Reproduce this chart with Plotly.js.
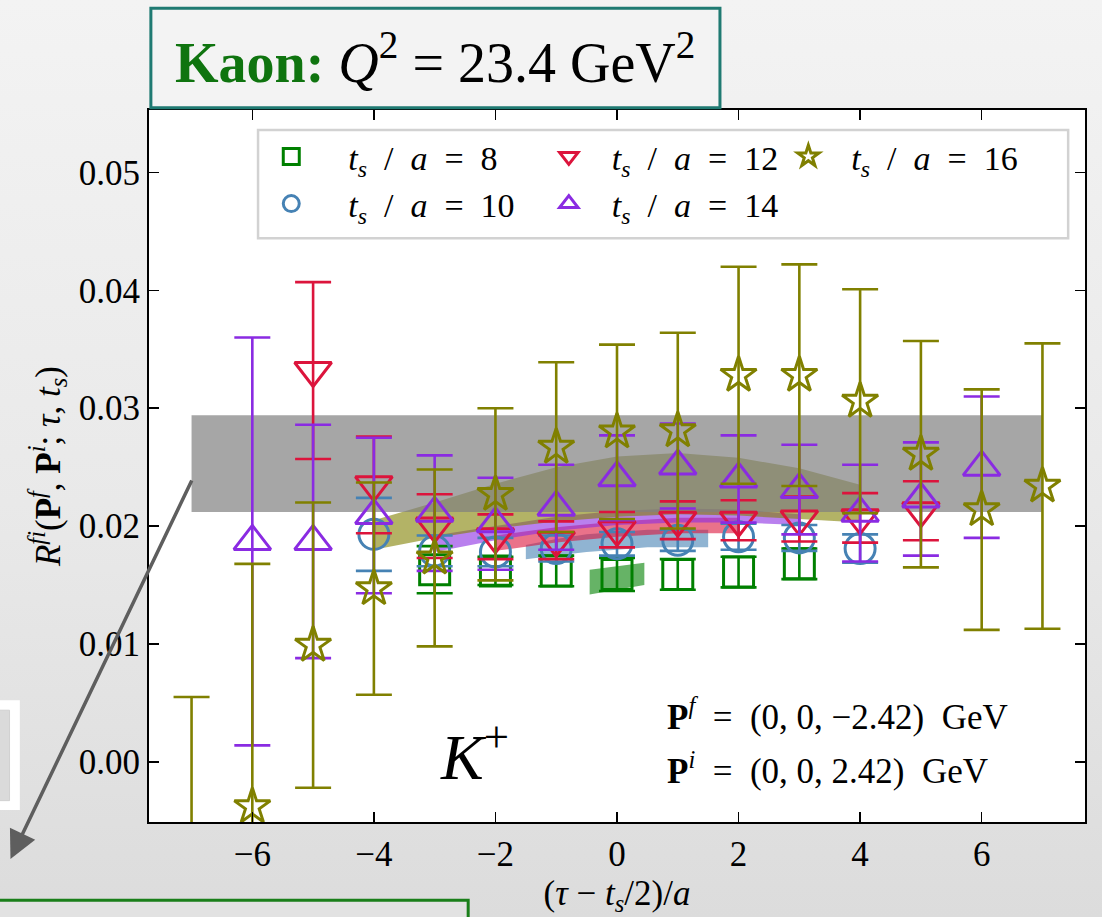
<!DOCTYPE html>
<html>
<head>
<meta charset="utf-8">
<script src="https://cdn.plot.ly/plotly-3.0.1.min.js"></script>
<style>
  html, body { margin: 0; padding: 0; }
  body { width: 1102px; height: 917px; background: linear-gradient(to bottom, #f3f3f3 0%, #e9e9e9 55%, #dcdcdc 100%); }
  #chart { width: 1102px; height: 917px; }
</style>
</head>
<body>
<div id="chart"></div>
<script>
// ---------------- data ----------------
const x8  = [-3, -2, -1, 0, 1, 2, 3];
const y8  = [0.0163, 0.0162, 0.0162, 0.0159, 0.0159, 0.0161, 0.0168];
const e8  = [0.0020, 0.0012, 0.0013, 0.0014, 0.0013, 0.0013, 0.0013];

const x10 = [-4, -3, -2, -1, 0, 1, 2, 3, 4];
const y10 = [0.0193, 0.0179, 0.0178, 0.0181, 0.0185, 0.0188, 0.0191, 0.0190, 0.0181];
const e10 = [0.0031, 0.0013, 0.0012, 0.0011, 0.0010, 0.0009, 0.0011, 0.0011, 0.0012];

const x12 = [-5, -4, -3, -2, -1, 0, 1, 2, 3, 4, 5];
const y12 = [0.0332, 0.0235, 0.0200, 0.0191, 0.0188, 0.0197, 0.0205, 0.0205, 0.0206, 0.0207, 0.0213];
const e12 = [0.0075, 0.0041, 0.0027, 0.0019, 0.0016, 0.0015, 0.0016, 0.0017, 0.0019, 0.0021, 0.0025];

const x14 = [-6, -5, -4, -3, -2, -1, 0, 1, 2, 3, 4, 5, 6];
const y14 = [0.0187, 0.0187, 0.0209, 0.0211, 0.0202, 0.0216, 0.0241, 0.0251, 0.0240, 0.0231, 0.0211, 0.0223, 0.0250];
const e14 = [0.0173, 0.0099, 0.0066, 0.0049, 0.0039, 0.0036, 0.0036, 0.0036, 0.0037, 0.0038, 0.0041, 0.0048, 0.0060];

const x16 = [-7, -6, -5, -4, -3, -2, -1, 0, 1, 2, 3, 4, 5, 6, 7];
const y16 = [-0.0085, -0.0038, 0.0099, 0.0147, 0.0173, 0.0227, 0.0267, 0.0280, 0.0281, 0.0328, 0.0328, 0.0306, 0.0261, 0.0214, 0.0234];
const e16 = [0.0140, 0.0206, 0.0121, 0.0090, 0.0075, 0.0073, 0.0072, 0.0074, 0.0083, 0.0092, 0.0094, 0.0095, 0.0096, 0.0102, 0.0121];

// fitted bands
const bandGrayX  = [-7, 7];
const bandGrayLo = [0.0212, 0.0212];
const bandGrayHi = [0.0294, 0.0294];

const band8X  = [-0.45, 0.45];
const band8Lo = [0.0142, 0.0150];
const band8Hi = [0.0163, 0.0169];

const band10X  = [-1.5, -1, -0.5, 0, 0.5, 1, 1.5];
const band10Lo = [0.0172, 0.0175, 0.0178, 0.0180, 0.0182, 0.0182, 0.0182];
const band10Hi = [0.0184, 0.0189, 0.0193, 0.0195, 0.0197, 0.0197, 0.0197];

const band12X  = [-2, -1, 0, 1, 2];
const band12Lo = [0.0179, 0.0186, 0.0191, 0.0194, 0.0194];
const band12Hi = [0.0192, 0.0199, 0.0204, 0.0207, 0.0207];

const band14X  = [-3, -2, -1, 0, 1, 2, 3];
const band14Lo = [0.0178, 0.0188, 0.0196, 0.0201, 0.0203, 0.0203, 0.0201];
const band14Hi = [0.0192, 0.0200, 0.0208, 0.0213, 0.0215, 0.0214, 0.0210];

const band16X  = [-4, -3, -2, -1, 0, 1, 2, 3, 4];
const band16Lo = [0.0180, 0.0190, 0.0198, 0.0204, 0.0208, 0.0210, 0.0209, 0.0206, 0.0203];
const band16Hi = [0.0205, 0.0220, 0.0236, 0.0250, 0.0259, 0.0262, 0.0258, 0.0249, 0.0235];

const legendLabels = ['8', '10', '12', '14', '16'];

// ---------------- styling ----------------
const SERIF = 'Liberation Serif, DejaVu Serif, serif';
const colors = ['#008000', '#4682b4', '#dc143c', '#8a2be2', '#808000'];
const fills  = ['rgba(0,128,0,0.6)', 'rgba(70,130,180,0.6)', 'rgba(220,20,60,0.6)', 'rgba(138,43,226,0.6)', 'rgba(128,128,0,0.6)'];
const symbols = ['square-open', 'circle-open', 'triangle-down-open', 'triangle-up-open', 'star-open'];
const sizes = [30, 30, 32, 32, 27];
const legendIds = ['legend', 'legend', 'legend2', 'legend2', 'legend3'];

function band(xs, lo, hi, fill) {
  const xr = xs.slice().reverse();
  const lr = lo.slice().reverse();
  return {
    type: 'scatter', mode: 'lines', x: xs.concat(xr), y: hi.concat(lr),
    fill: 'toself', fillcolor: fill, line: {width: 0}, hoverinfo: 'skip', showlegend: false
  };
}

const traces = [];
const bands = [[band8X, band8Lo, band8Hi], [band10X, band10Lo, band10Hi], [band12X, band12Lo, band12Hi], [band14X, band14Lo, band14Hi], [band16X, band16Lo, band16Hi]];
bands.forEach((b, i) => traces.push(band(b[0], b[1], b[2], fills[i])));
traces.push(band(bandGrayX, bandGrayLo, bandGrayHi, 'rgba(128,128,128,0.7)'));

const series = [[x8, y8, e8], [x10, y10, e10], [x12, y12, e12], [x14, y14, e14], [x16, y16, e16]];
series.forEach((s, i) => {
  traces.push({
    type: 'scatter', mode: 'markers', x: s[0], y: s[1],
    name: '<i>t</i><sub><i>s</i></sub>  /  <i>a</i>  =  ' + legendLabels[i],
    legend: legendIds[i],
    error_y: {type: 'data', array: s[2], visible: true, color: colors[i], thickness: 2.6, width: 18},
    marker: {symbol: symbols[i], size: sizes[i], color: colors[i], line: {color: colors[i], width: 3}}
  });
});

function legendBox(xp, w) {
  return {
    x: xp, y: 0.975, xanchor: 'left', yanchor: 'top', orientation: 'v',
    font: {family: SERIF, size: 34, color: '#000'},
    bgcolor: 'rgba(0,0,0,0)', borderwidth: 0, itemwidth: w, tracegroupgap: 0,
    traceorder: 'normal'
  };
}

const layout = {
  width: 1102, height: 917,
  margin: {l: 149, r: 17, t: 110, b: 95},
  paper_bgcolor: 'rgba(0,0,0,0)',
  plot_bgcolor: '#ffffff',
  font: {family: SERIF, color: '#000', size: 34},
  showlegend: true,
  legend: legendBox(0.0911, 104),
  legend2: legendBox(0.4026, 76),
  legend3: legendBox(0.6585, 76),
  xaxis: {
    range: [-7.7, 7.7], tick0: 0, dtick: 2, ticks: 'inside', ticklen: 10, tickwidth: 1.6, tickcolor: '#000',
    mirror: 'ticks', showline: true, linewidth: 2, linecolor: '#000', showgrid: false, zeroline: false,
    tickfont: {family: SERIF, size: 35},
    title: {text: '(<i>τ</i> − <i>t</i><sub><i>s</i></sub>/2)/<i>a</i>', font: {family: SERIF, size: 35}, standoff: 4}
  },
  yaxis: {
    range: [-0.0051, 0.0553], tick0: 0, dtick: 0.01, tickformat: '.2f', ticks: 'inside', ticklen: 10, tickwidth: 1.6, tickcolor: '#000',
    mirror: 'ticks', showline: true, linewidth: 2, linecolor: '#000', showgrid: false, zeroline: false,
    tickfont: {family: SERIF, size: 35},
    title: {text: '<i>R</i><sup><i>fi</i></sup>(<b>P</b><sup><i>f</i></sup>, <b>P</b><sup><i>i</i></sup>; <i>τ</i>, <i>t</i><sub><i>s</i></sub>)', font: {family: SERIF, size: 35}, standoff: 8}
  },
  shapes: [
    // legend frame
    {type: 'rect', xref: 'paper', yref: 'paper', x0: 0.1165, x1: 0.982, y0: 0.820, y1: 0.972,
     fillcolor: 'rgba(255,255,255,0.92)', line: {color: '#d2d2d2', width: 2.5}, layer: 'above'},
    // title box
    {type: 'rect', xref: 'paper', yref: 'paper', x0: 0.002, x1: 0.610, y0: 1.003, y1: 1.143,
     fillcolor: '#f3f3f3', line: {color: '#1f7a72', width: 3}, layer: 'above'},
    // bottom green box
    {type: 'rect', xref: 'paper', yref: 'paper', x0: -0.17, x1: 0.341, y0: -0.16, y1: -0.110,
     fillcolor: '#e2e2e2', line: {color: '#1a7f1a', width: 3}},
    // left white box
    {type: 'rect', xref: 'paper', yref: 'paper', x0: -0.17, x1: -0.138, y0: 0.017, y1: 0.171,
     fillcolor: '#ffffff', line: {width: 0}},
    {type: 'rect', xref: 'paper', yref: 'paper', x0: -0.17, x1: -0.149, y0: 0.03, y1: 0.157,
     fillcolor: '#dadada', line: {color: '#d0d0d0', width: 1}}
  ],
  annotations: [
    {xref: 'paper', yref: 'paper', x: 0.306, y: 1.073, xanchor: 'center', yanchor: 'middle', showarrow: false,
     text: '<span style="color:#0f740f"><b>Kaon:</b></span> <i>Q</i><sup>2</sup> = 23.4 GeV<sup>2</sup>',
     font: {family: SERIF, size: 56, color: '#000'}},
    {xref: 'paper', yref: 'paper', x: 0.348, y: 0.098, xanchor: 'center', yanchor: 'middle', showarrow: false,
     text: '<i>K</i><sup>+</sup>', font: {family: SERIF, size: 64, color: '#000'}},
    {xref: 'paper', yref: 'paper', x: 0.551, y: 0.1505, xanchor: 'left', yanchor: 'middle', showarrow: false,
     text: '<b>P</b><sup><i>f</i></sup>  =  (0, 0, −2.42)  GeV', font: {family: SERIF, size: 35, color: '#000'}},
    {xref: 'paper', yref: 'paper', x: 0.551, y: 0.0745, xanchor: 'left', yanchor: 'middle', showarrow: false,
     text: '<b>P</b><sup><i>i</i></sup>  =  (0, 0, 2.42)  GeV', font: {family: SERIF, size: 35, color: '#000'}},
    {xref: 'paper', yref: 'paper', x: -0.148, y: -0.052, showarrow: true, text: '',
     ax: 182, ay: -380, arrowhead: 2, arrowsize: 1.6, arrowwidth: 3.5, arrowcolor: '#5e5e5e'}
  ]
};

Plotly.newPlot('chart', traces, layout, {displayModeBar: false, staticPlot: true});
</script>
</body>
</html>
